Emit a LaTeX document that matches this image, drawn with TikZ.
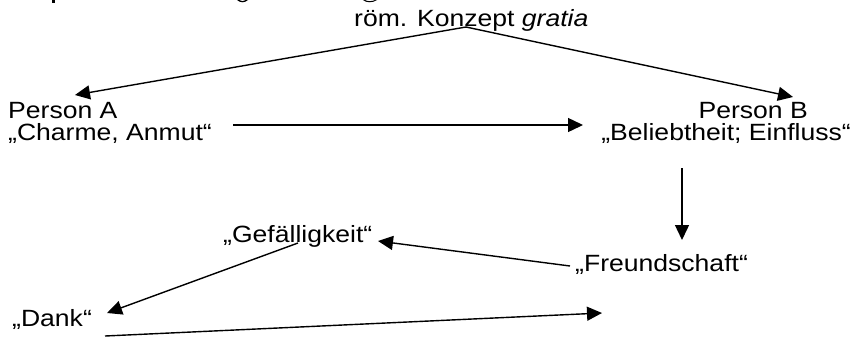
\documentclass[tikz,border=0pt]{standalone}
\usepackage{fontspec}
\setmainfont{Liberation Sans}[FakeStretch=1.13]
\usetikzlibrary{arrows.meta}
\begin{document}
\begin{tikzpicture}[x=1pt,y=-1pt,
  lbl/.style={inner sep=0pt, anchor=base west, font=\fontsize{23.5}{28}\selectfont},
  rlbl/.style={lbl, anchor=base east},
  arr/.style={line width=1.4pt, -{Triangle[length=15pt,width=14pt]}}]
\useasboundingbox (0,0) rectangle (858,338);

% descender tails of the bold heading line above the cut
\fill (52,0) rectangle (55,3);
\fill (237,0) .. controls (240,3) and (245,3) .. (248,0) -- (246,0) .. controls (244,1.5) and (241,1.5) .. (239,0) -- cycle;
\fill (363,0) .. controls (366,3) and (373,3) .. (377,0) -- (375,0) .. controls (372,1.5) and (367,1.5) .. (365,0) -- cycle;

% labels
\node[lbl]  (konzept) at (354,26)  {röm. Konzept \textit{gratia}};
\node[lbl]  (pa)      at (8,118)   {Person A};
\node[lbl]  (charme)  at (8,140)   {„Charme, Anmut“};
\node[rlbl] (pb)      at (808,118) {Person B};
\node[rlbl] (beliebt) at (851,140) {„Beliebtheit; Einfluss“};
\node[lbl]  (freund)  at (575,271) {„Freundschaft“};
\node[lbl]  (gef)     at (223,242) {„Gefälligkeit“};
\node[lbl]  (dank)    at (12,326)  {„Dank“};

% connector end points
\coordinate (apex)  at (466,27);
\coordinate (tA)    at (75,95);
\coordinate (tB)    at (793,97);
\coordinate (hs)    at (233,125);
\coordinate (he)    at (583,125);
\coordinate (vs)    at (682,168);
\coordinate (ve)    at (682,240);
\coordinate (fs)    at (570,266);
\coordinate (fe)    at (378,241);
\coordinate (gs)    at (298,243);
\coordinate (ge)    at (107,313);
\coordinate (ds)    at (105,336);
\coordinate (de)    at (602,313);

% connectors
\draw[arr] (apex) -- (tA);
\draw[arr] (apex) -- (tB);
\draw[arr] (hs) -- (he);
\draw[arr] (vs) -- (ve);
\draw[arr] (fs) -- (fe);
\draw[arr] (gs) -- (ge);
\draw[arr] (ds) -- (de);
\end{tikzpicture}
\end{document}
